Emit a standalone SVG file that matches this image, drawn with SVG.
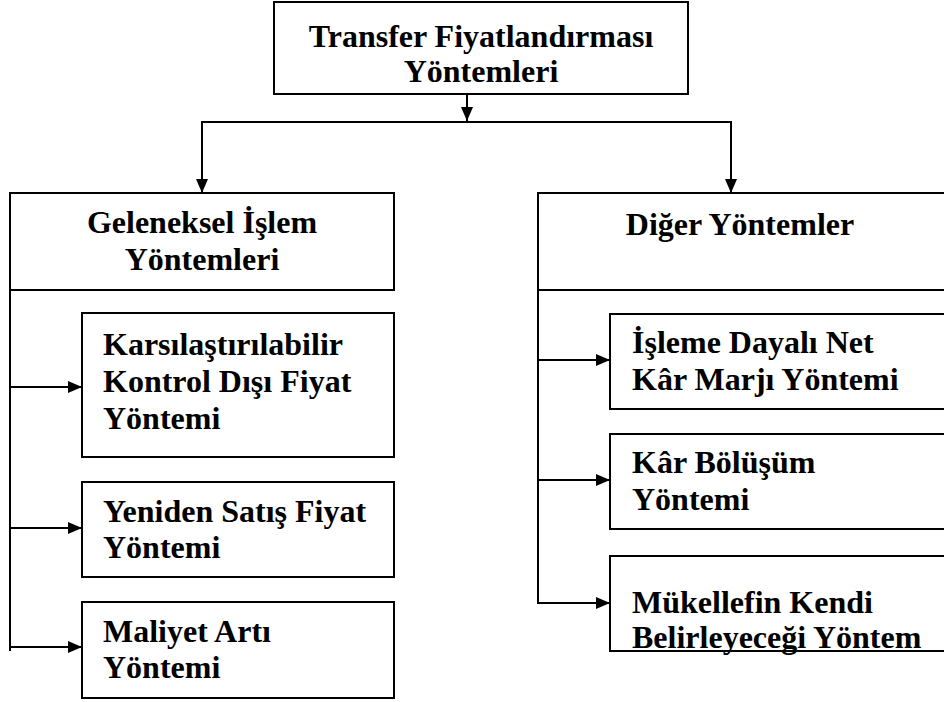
<svg xmlns="http://www.w3.org/2000/svg" width="944" height="702" viewBox="0 0 944 702">
<style>
.box{fill:#fff;stroke:#000;stroke-width:2}
.t{font-family:"Liberation Serif","Times New Roman",serif;font-weight:bold;font-size:32px;fill:#000}
.c{text-anchor:middle}
.ln{stroke:#000;stroke-width:2;fill:none}
</style>
<defs>
<marker id="ah" viewBox="0 0 14 12" refX="14" refY="6" markerWidth="14" markerHeight="12" markerUnits="userSpaceOnUse" orient="auto">
<path d="M0,0 L14,6 L0,12 Z" fill="#000"/>
</marker>
</defs>
<g id="connectors">
<line class="ln" x1="467" y1="94" x2="467" y2="121" marker-end="url(#ah)"/>
<line class="ln" x1="202" y1="122" x2="731" y2="122"/>
<line class="ln" x1="202" y1="121" x2="202" y2="193" marker-end="url(#ah)"/>
<line class="ln" x1="731" y1="121" x2="731" y2="193" marker-end="url(#ah)"/>
<line class="ln" x1="10" y1="290" x2="10" y2="651"/>
<line class="ln" x1="10" y1="387" x2="82" y2="387" marker-end="url(#ah)"/>
<line class="ln" x1="10" y1="528" x2="82" y2="528" marker-end="url(#ah)"/>
<line class="ln" x1="10" y1="647" x2="82" y2="647" marker-end="url(#ah)"/>
<line class="ln" x1="538" y1="290" x2="538" y2="604"/>
<line class="ln" x1="538" y1="360" x2="610" y2="360" marker-end="url(#ah)"/>
<line class="ln" x1="538" y1="480" x2="610" y2="480" marker-end="url(#ah)"/>
<line class="ln" x1="538" y1="603" x2="610" y2="603" marker-end="url(#ah)"/>
</g>
<g id="root">
<rect class="box" x="274" y="2" width="414" height="92"/>
<text class="t c" x="481" y="47">Transfer Fiyatlandırması</text>
<text class="t c" x="481" y="82">Yöntemleri</text>
</g>
<g id="geleneksel">
<rect class="box" x="10" y="193" width="384" height="97"/>
<text class="t c" x="202" y="233">Geleneksel İşlem</text>
<text class="t c" x="202" y="270">Yöntemleri</text>
</g>
<g id="diger">
<rect class="box" x="538" y="193" width="410" height="97"/>
<text class="t c" x="740" y="235">Diğer Yöntemler</text>
</g>
<g id="kkdf">
<rect class="box" x="82" y="313" width="312" height="144"/>
<text class="t" x="103" y="355">Karsılaştırılabilir</text>
<text class="t" x="103" y="392">Kontrol Dışı Fiyat</text>
<text class="t" x="103" y="429">Yöntemi</text>
</g>
<g id="ysf">
<rect class="box" x="82" y="482" width="312" height="95"/>
<text class="t" x="103" y="522">Yeniden Satış Fiyat</text>
<text class="t" x="103" y="558">Yöntemi</text>
</g>
<g id="maliyet">
<rect class="box" x="82" y="602" width="312" height="96"/>
<text class="t" x="103" y="642">Maliyet Artı</text>
<text class="t" x="103" y="678">Yöntemi</text>
</g>
<g id="idnkm">
<rect class="box" x="610" y="314" width="338" height="95"/>
<text class="t" x="632" y="353">İşleme Dayalı Net</text>
<text class="t" x="632" y="390">Kâr Marjı Yöntemi</text>
</g>
<g id="karbolusum">
<rect class="box" x="610" y="434" width="338" height="95"/>
<text class="t" x="632" y="473">Kâr Bölüşüm</text>
<text class="t" x="632" y="510">Yöntemi</text>
</g>
<g id="mukellef">
<rect class="box" x="610" y="556" width="338" height="95"/>
<text class="t" x="632" y="613">Mükellefin Kendi</text>
<text class="t" x="632" y="648">Belirleyeceği Yöntem</text>
</g>
</svg>
